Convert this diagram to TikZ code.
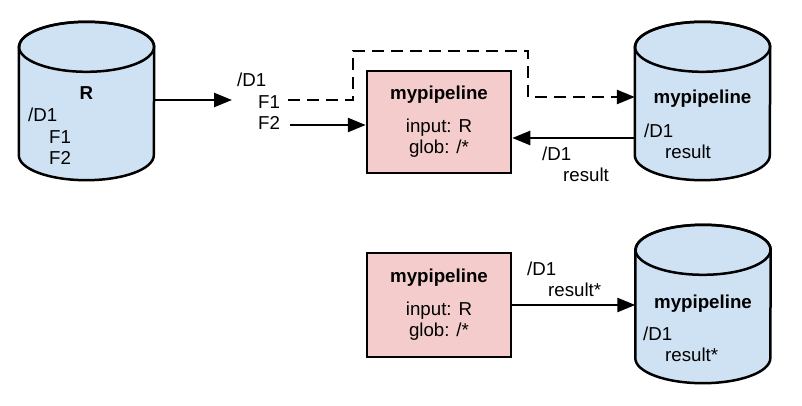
\documentclass[tikz,border=0pt]{standalone}
\usepackage{fontspec}
\setmainfont{Liberation Sans}
\usepackage{xcolor}
\usetikzlibrary{positioning,arrows.meta}
\definecolor{storeblue}{HTML}{CFE2F3}
\definecolor{pipepink}{HTML}{F4CCCC}

\begin{document}
\begin{tikzpicture}[
  x=1pt, y=-1pt,
  font=\fontsize{18.7}{21.5}\selectfont,
  repo/.style  = {rectangle, minimum width=135pt, minimum height=158pt, inner sep=0pt},
  pipe/.style  = {rectangle, draw=black, line width=2.5pt, fill=pipepink,
    minimum width=144pt, minimum height=102pt, align=center},
  txt/.style   = {inner sep=0pt, anchor=base west, align=left},
  arrow/.style = {-{Triangle[length=18pt,width=14pt]}, line width=2.5pt},
]
  \useasboundingbox (0,0) rectangle (802,406);

  % repositories and pipelines
  \node[repo] (R)    at (86.5,101) {};
  \node[repo] (out)  at (702.5,101) {};
  \node[repo] (out2) at (703,304) {};
  \foreach \n in {R,out,out2} {
    \draw[line width=2.5pt, fill=storeblue] ([yshift=-25pt]\n.north west)
      -- ([yshift=25pt]\n.south west) arc (180:360:67.5pt and 25pt)
      -- ([yshift=-25pt]\n.north east) arc (0:180:67.5pt and 25pt) -- cycle;
    \draw[line width=2.5pt] ([yshift=-25pt]\n.north) ellipse (67.5pt and 25pt);
  }
  \node[pipe] (p1) at (439,122) {\textbf{mypipeline}\\[11pt]input: R\\glob: /*};
  \node[pipe, minimum height=104pt] (p2) at (439,305) {\textbf{mypipeline}\\[11pt]input: R\\glob: /*};

  % repository contents
  \node (rname) at (86.5,93) {\textbf{R}};
  \node[txt] (rtree) at (28,164.7) {/D1\\\hspace*{21pt}F1\\\hspace*{21pt}F2};
  \node (outname) at (702.5,99) {\textbf{mypipeline}};
  \node[txt] (outtree) at (644,158.7) {/D1\\\hspace*{21pt}result};
  \node (out2name) at (703,304) {\textbf{mypipeline}};
  \node[txt] (out2tree) at (643,361.7) {/D1\\\hspace*{22pt}result*};

  % data flowing in
  \coordinate (rin) at (232,100);
  \draw[arrow] (R.east |- rin) -- (rin);
  \node[txt] (intree) at (237,129.7) {/D1\\\hspace*{21pt}F1\\\hspace*{21pt}F2};
  \coordinate (f1) at (288,100);
  \coordinate (f2) at (290,125);
  \coordinate (skip) at (0,97);
  \draw[arrow, dash pattern=on 12pt off 7pt] (f1) -- (353,100) -- (353,51)
    -- (528,51) -- (528,97) -- (out.west |- skip);
  \draw[arrow] (f2) -- (p1.west |- f2);

  % output fed back
  \coordinate (back) at (0,138);
  \draw[arrow] (out.west |- back) -- (p1.east |- back);
  \node[txt] (backtree) at (542,181.7) {/D1\\\hspace*{21pt}result};

  % second run
  \draw[arrow] (p2.east) -- (p2.east -| out2.west);
  \node[txt] (newtree) at (527,296.7) {/D1\\\hspace*{21pt}result*};
\end{tikzpicture}
\end{document}
